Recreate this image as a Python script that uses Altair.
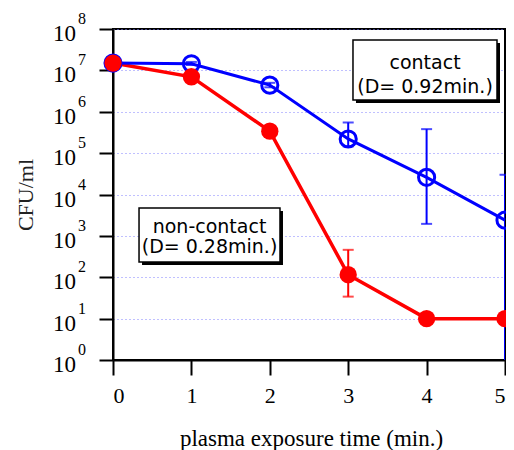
import altair as alt
import pandas as pd

# ---- data ----
times = [0, 1, 2, 3, 4, 5]
contact_cfu = [1.5e7, 1.45e7, 4.4e6, 2.2e5, 2.6e4, 2.4e3]
contact_low = [None, 1.35e7, 3.9e6, 1.45e5, 1.95e3, 0.3]
contact_high = [None, 1.6e7, 5.0e6, 5.5e5, 3.8e5, 3.0e4]
noncontact_cfu = [1.5e7, 7.0e6, 3.4e5, 115, 10, 10]
noncontact_low = [None, None, 2.7e5, 34, None, None]
noncontact_high = [None, None, 4.5e5, 460, None, None]
series_names = ["contact", "non-contact"]
series_colors = ["#0000ff", "#ff0000"]
x_ticks = [0, 1, 2, 3, 4, 5]
y_exponents = [0, 1, 2, 3, 4, 5, 6, 7, 8]
x_title = "plasma exposure time (min.)"
y_title = "CFU/ml"

# annotation boxes (label text, box extents in data units)
box_line1 = ["contact", "non-contact"]
box_line2 = ["(D= 0.92min.)", "(D= 0.28min.)"]
box_x1 = [3.061, 0.332]
box_x2 = [4.898, 2.130]
box_y1 = [10 ** 7.734, 10 ** 3.674]
box_y2 = [10 ** 6.284, 10 ** 2.369]
box_xc = [3.98, 1.231]
box_yl1 = [10 ** 7.19, 10 ** 3.225]
box_yl2 = [10 ** 6.61, 10 ** 2.72]

SERIF = "Liberation Serif"
SANS = "DejaVu Sans"

rows = []
for name, vals, lo, hi in [("contact", contact_cfu, contact_low, contact_high),
                           ("non-contact", noncontact_cfu, noncontact_low, noncontact_high)]:
    for t, v, l, h in zip(times, vals, lo, hi):
        rows.append({"series": name, "t": t, "cfu": v, "lo": l, "hi": h})
df = pd.DataFrame(rows)
err = df.dropna(subset=["lo", "hi"])

boxes = pd.DataFrame({"x1": box_x1, "x2": box_x2, "y1": box_y1, "y2": box_y2,
                      "xc": box_xc, "yl1": box_yl1, "yl2": box_yl2,
                      "l1": box_line1, "l2": box_line2})
ylab = pd.DataFrame({"e": [str(e) for e in y_exponents], "v": [10.0 ** e for e in y_exponents]})

xscale = alt.Scale(domain=[0, 5], nice=False, zero=False)
yscale = alt.Scale(type="log", domain=[1, 1e8], nice=False)
xaxis = alt.Axis(values=x_ticks, title=x_title, grid=False, tickSize=15, tickWidth=2,
                 tickColor="black", domainColor="black", domainWidth=2,
                 labelFont=SERIF, labelFontSize=22, labelColor="black", labelPadding=10,
                 titleFont=SERIF, titleFontSize=23, titleFontWeight="normal", titleColor="black",
                 titleX=198, titleY=78, titleBaseline="middle", titleAnchor="middle")
yaxis = alt.Axis(values=[10.0 ** e for e in y_exponents], title=y_title, labels=False,
                 grid=True, gridColor="#8080ff", gridDash=[1, 3], gridWidth=1,
                 tickSize=14, tickWidth=2, tickColor="black", domainColor="black", domainWidth=2,
                 titleFont=SERIF, titleFontSize=22, titleFontWeight="normal", titleColor="#222222",
                 titleX=-88, titleY=165.5, titleAngle=-90, titleBaseline="middle", titleAlign="center")


def X(field):
    return alt.X(f"{field}:Q", scale=xscale, axis=xaxis)


def Y(field):
    return alt.Y(f"{field}:Q", scale=yscale, axis=yaxis)


color = alt.Color("series:N", scale=alt.Scale(domain=series_names, range=series_colors), legend=None)

base = alt.Chart(df)
red_line = base.transform_filter("datum.series == 'non-contact'").mark_line(strokeWidth=3.5).encode(
    x=X("t"), y=Y("cfu"), color=color)
blue_line = base.transform_filter("datum.series == 'contact'").mark_line(strokeWidth=3).encode(
    x=X("t"), y=Y("cfu"), color=color)

ebase = alt.Chart(err)
err_rule = ebase.mark_rule(strokeWidth=2, clip=True).encode(x=X("t"), y=Y("lo"), y2="hi:Q", color=color)
err_hi = ebase.mark_tick(orient="horizontal", size=11, thickness=2).encode(x=X("t"), y=Y("hi"), color=color)
err_lo = ebase.mark_tick(orient="horizontal", size=11, thickness=2, clip=True).encode(
    x=X("t"), y=Y("lo"), color=color)

blue_pts = base.transform_filter("datum.series == 'contact'").mark_point(
    shape="circle", size=260, filled=False, strokeWidth=3, opacity=1).encode(
    x=X("t"), y=Y("cfu"), color=color)
red_pts = base.transform_filter("datum.series == 'non-contact'").mark_point(
    shape="circle", size=300, filled=True, opacity=1).encode(
    x=X("t"), y=Y("cfu"), color=color)

bb = alt.Chart(boxes)
shadow = bb.mark_rect(fill="black", xOffset=3, x2Offset=3, yOffset=3, y2Offset=3).encode(
    x=X("x1"), x2="x2:Q", y=Y("y1"), y2="y2:Q")
box = bb.mark_rect(fill="white", stroke="black", strokeWidth=1.5).encode(
    x=X("x1"), x2="x2:Q", y=Y("y1"), y2="y2:Q")
txt1 = bb.mark_text(font=SANS, fontSize=19, color="black", baseline="middle").encode(
    x=X("xc"), y=Y("yl1"), text="l1:N")
txt2 = bb.mark_text(font=SANS, fontSize=19, color="black", baseline="middle").encode(
    x=X("xc"), y=Y("yl2"), text="l2:N")

lb = alt.Chart(ylab)
ten = lb.mark_text(text="10", font=SERIF, fontSize=23, color="black", align="right",
                   baseline="middle", dy=5).encode(x=alt.value(-37), y=Y("v"))
expo = lb.mark_text(font=SERIF, fontSize=16, color="black", align="left",
                    baseline="middle", dy=-10).encode(x=alt.value(-35), y=Y("v"), text="e:N")

chart = alt.layer(red_line, blue_line, err_rule, err_hi, err_lo, blue_pts, red_pts,
                  shadow, box, txt1, txt2, ten, expo).properties(
    width=392, height=331, autosize="none",
    padding={"left": 105, "top": 21, "right": 1, "bottom": 90},
    background="white",
).configure_view(stroke="black", strokeWidth=2)

chart.save("out.html", embed_options={"renderer": "svg", "actions": False})
